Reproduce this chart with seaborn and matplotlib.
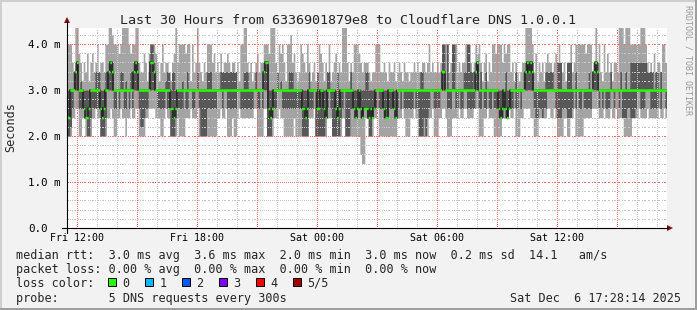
import numpy as np
import matplotlib
matplotlib.use("Agg")
import matplotlib.pyplot as plt
import matplotlib.transforms as mtrans
from matplotlib.patches import Rectangle, Polygon
from matplotlib.lines import Line2D
import seaborn as sns

# ---------------------------------------------------------------- data
# Each character is one 5-minute step; the character is a
# level code for the round-trip time (0.2 ms resolution), see LEVEL_MS.
LEVEL_MS = dict(zip("0123456789abcdef",
                    [1.4, 1.6, 1.8, 2.0, 2.2, 2.4, 2.6, 2.8,
                     3.0, 3.2, 3.4, 3.6, 3.8, 4.0, 4.2, 4.4]))

# 6 blocks of 60 steps (5 hours each) -> 30 hours
ping_min = [
    "3335566335" "5333355655" "3333556533" "5565535565" "5663333556" "6665553356",
    "5533335333" "3555655563" "3333333333" "5565563335" "3356555555" "5566333366",
    "3333555655" "3333335333" "3333355563" "3333335553" "3333355333" "3333331005",
    "5333556333" "3333333355" "5653335565" "5333333556" "3335566533" "3555565566",
    "5555666333" "5565553333" "3555565563" "3355666655" "3335555566" "5565333355",
    "3355633333" "5555566665" "5565556556" "5555333335" "5556555565" "5555565565",
]
ping_2 = [
    "3346888666" "6533566666" "3335888866" "8688668686" "8886445668" "8888666668",
    "6633356666" "8668866886" "3333666666" "8886886666" "6688666666" "6688668688",
    "3335668886" "6666666666" "6333366683" "3333356863" "3333568333" "6665665566",
    "5335668666" "5556666568" "6866666686" "6333535688" "6666888866" "6886686688",
    "6666688668" "6686686665" "5565566686" "6868888888" "6556656688" "8886555666",
    "5556868668" "6666688886" "8686668868" "8685556655" "5688666888" "6666686886",
]
ping_median = [
    "55888ab888" "6556888888" "65688aba88" "8888888888" "aba8888888" "bba8888888",
    "8866568888" "8888888888" "8888888888" "8888888888" "8888888888" "88888888ab",
    "b656888888" "8888888888" "8665688888" "6688658888" "8656888888" "8865686566",
    "6565688888" "6558886588" "8888888888" "8888888888" "88888aa888" "8888888888",
    "88888ab888" "8888888886" "5686568888" "88888ababa" "8888888888" "8888888888",
    "8888888888" "888888aba8" "8888888888" "8888888888" "8888888888" "8888888888",
]
ping_4 = [
    "8888abb898" "8888888aaa" "888aabbb88" "88aa8988aa" "bbb888888a" "ddb8888889",
    "aa8aa88889" "88a88888a8" "8888aaa888" "88aaaaaaaa" "aa8888aaa8" "888a8888bb",
    "b88888a898" "888aaa8888" "88888a8888" "a88888aa88" "88a8888888" "a88888888a",
    "a888888888" "8888888888" "8888888888" "88aa888888" "88888dd8d8" "8dd88888aa",
    "ddaa8bb8a8" "8a88888888" "888a88888a" "8888abbbbb" "8888888aaa" "aa88bbb888",
    "bbb88a8888" "888a88bbb8" "888888a888" "88a88a88bb" "bbbbbbbbaa" "aa8aa8a888",
]
ping_max = [
    "dddbaffcb9" "bac9bcabda" "bbaddffedd" "dcdffffdcd" "dffbaacb9c" "dddcb9bdab",
    "ba9bcfbddd" "dcdd9dabfb" "a9badddbca" "bacabbcbab" "bab9ddffba" "b9abcabbdd",
    "dcfffbadcd" "b9ddebca9a" "dcbadb9ab9" "adcb9bad9a" "bcabafffb9" "badddcbabb",
    "ba9aadddaa" "ba9baab9ab" "a9baa9aaba" "baabbabdab" "aababdddda" "bdddababbd",
    "ddbabdcdb9" "bc9baddcdd" "dbdcddab9b" "a9abbffffd" "ac9bab9bcb" "babcbdbab9",
    "bbdabddddd" "dcdddabfbd" "a9dacab9bb" "afffdfffdd" "ddddfffdba" "bacabbaddb",
]

y_tick_values = [0, 1, 2, 3, 4]
y_tick_labels = ["0.0", "1.0 m", "2.0 m", "3.0 m", "4.0 m"]
x_tick_hours = [12, 18, 24, 30, 36]
x_tick_labels = ["Fri 12:00", "Fri 18:00", "Sat 00:00", "Sat 06:00", "Sat 12:00"]

title = "Last 30 Hours from 6336901879e8 to Cloudflare DNS 1.0.0.1"
legend_rtt = "median rtt:  3.0 ms avg  3.6 ms max  2.0 ms min  3.0 ms now  0.2 ms sd  14.1   am/s"
legend_loss = "packet loss: 0.00 % avg  0.00 % max  0.00 % min  0.00 % now"
loss_labels = ["0", "1", "2", "3", "4", "5/5"]
loss_colors = ["#26ff00", "#00b8ff", "#0059ff", "#7e00ff", "#ff0000", "#a10000"]
probe_text = "probe:       5 DNS requests every 300s"
stamp_text = "Sat Dec  6 17:28:14 2025"
side_text = "RRDTOOL / TOBI OETIKER"

# ---------------------------------------------------------------- setup
sns.set_style("white")
plt.rcParams["font.family"] = ["DejaVu Sans Mono"]

W, H = 697, 310
fig = plt.figure(figsize=(W / 100, H / 100), dpi=100)
fig.patch.set_facecolor("#f2f2f2")


def fx(px):
    return px / W


def fy(py):
    return 1 - py / H


def decode(blocks):
    s = "".join(blocks)
    return np.array([LEVEL_MS[c] for c in s])


pings = np.sort(np.vstack([decode(ping_min), decode(ping_2), decode(ping_median),
                           decode(ping_4), decode(ping_max)]), axis=0)
n = pings.shape[1]
start_h = 11 + 28 / 60 + 14 / 3600          # Fri 11:28:14
span_h = 30.0
t_edges = start_h + np.arange(n + 1) * (span_h / n)


def ext(a):
    return np.r_[a, a[-1]]


mn, p2, md, p4, mx = [ext(p) for p in pings]

PX_L, PX_R, PX_B, PX_T = 66.5, 666.5, 228, 28
ax = fig.add_axes([fx(PX_L), fy(PX_B), (PX_R - PX_L) / W, (PX_B - PX_T) / H])
ax.set_facecolor("white")
ax.set_xlim(start_h, start_h + span_h)
ymax = (PX_B - PX_T) / 46
ax.set_ylim(0, ymax)
for sp in ax.spines.values():
    sp.set_visible(False)
ax.set_xticks([])
ax.set_yticks([])

# smoke
ax.fill_between(t_edges, mn, mx, step="post", color="#a4a4a4", lw=0, zorder=1)
ax.fill_between(t_edges, p2, p4, step="post", color="#585858", lw=0, zorder=2)

# dotted grid: 1 px dots every 2 px
px_per_h = (PX_R - PX_L) / span_h
px_per_ms = (PX_B - PX_T) / ymax
minor_c = "#c8c8c8"
major_c = "#ff6f6f"
dot_t = start_h + np.arange(1.0, PX_R - PX_L, 2) / px_per_h
dot_v = np.arange(0.5, PX_B - PX_T, 2) / px_per_ms
dot_s = (72 / 100) ** 2
for h in range(12, 42):
    c = major_c if h % 3 == 0 else minor_c
    ax.scatter(np.full_like(dot_v, h), dot_v, s=dot_s, color=c, marker="s",
               linewidths=0, antialiased=False, zorder=3.5 if c == major_c else 3)
for k in range(1, 22):
    v = k * 0.2
    c = major_c if k % 5 == 0 else minor_c
    ax.scatter(dot_t, np.full_like(dot_t, v), s=dot_s, color=c, marker="s",
               linewidths=0, antialiased=False, zorder=3.5 if c == major_c else 3)

# median line (dark) and loss-coloured median marks
sns.lineplot(x=t_edges, y=md, drawstyle="steps-post", color="#202020", lw=1.1,
             ax=ax, estimator=None, sort=False, legend=False, zorder=4)
sw = 0.028
ax.fill_between(t_edges, md - sw, md + sw, step="post", color=loss_colors[0], lw=0, zorder=5)

# axes lines + arrows
fig.add_artist(Line2D([fx(62), fx(668)], [fy(228), fy(228)], color="black", lw=0.8))
fig.add_artist(Line2D([fx(67), fx(67)], [fy(233), fy(22)], color="black", lw=0.8))
fig.add_artist(Polygon([[fx(667), fy(225)], [fx(667), fy(231)], [fx(673), fy(228)]],
                       closed=True, color="#7f1010", lw=0))
fig.add_artist(Polygon([[fx(64), fy(23)], [fx(70), fy(23)], [fx(67), fy(17)]],
                       closed=True, color="#7f1010", lw=0))

# tick labels
ytr = mtrans.blended_transform_factory(fig.transFigure, ax.transData)
for v, lab in zip(y_tick_values, y_tick_labels):
    ax.text(fx(28.5), v, lab, transform=ytr, ha="left", va="center_baseline",
            fontsize=7.8, color="black")
xtr = mtrans.blended_transform_factory(ax.transData, fig.transFigure)
for h, lab in zip(x_tick_hours, x_tick_labels):
    ax.text(h, fy(237.3), lab, transform=xtr, ha="center", va="center_baseline",
            fontsize=7.2, color="black", clip_on=False)

# texts
fig.text(fx(348), fy(19), title, ha="center", va="center_baseline", fontsize=9.6)
fig.text(fx(11), fy(127.5), "Seconds", rotation=90, ha="center", va="center", fontsize=8.5)
fig.text(fx(688), fy(60), side_text, rotation=-90, ha="center", va="center",
         fontsize=6, color="#9a9a9a")

fs_leg = 8.5
fig.text(fx(16), fy(253.5), legend_rtt, ha="left", va="center_baseline", fontsize=fs_leg)
fig.text(fx(16), fy(268.3), legend_loss, ha="left", va="center_baseline", fontsize=fs_leg)
fig.text(fx(16), fy(282), "loss color:", ha="left", va="center_baseline", fontsize=fs_leg)
for i, (lab, col) in enumerate(zip(loss_labels, loss_colors)):
    bx = 108.3 + 37 * i
    fig.add_artist(Rectangle((fx(bx), fy(286)), 7.5 / W, 8 / H, facecolor=col,
                             edgecolor="black", lw=0.7))
    fig.text(fx(bx + 14.3), fy(282), lab, ha="left", va="center_baseline", fontsize=fs_leg)
fig.text(fx(16), fy(296.7), probe_text, ha="left", va="center_baseline", fontsize=fs_leg)
fig.text(fx(680.5), fy(296.7), stamp_text, ha="right", va="center_baseline", fontsize=fs_leg)

# 3-D frame
fig.add_artist(Rectangle((0, fy(2)), 1, 2 / H, color="#cfcfcf", lw=0))
fig.add_artist(Rectangle((0, 0), 2 / W, 1, color="#cfcfcf", lw=0))
fig.add_artist(Rectangle((0, 0), 1, 2 / H, color="#9e9e9e", lw=0))
fig.add_artist(Rectangle((fx(695), 0), 2 / W, 1, color="#9e9e9e", lw=0))

fig.savefig("out.png", dpi=100, facecolor=fig.get_facecolor())
